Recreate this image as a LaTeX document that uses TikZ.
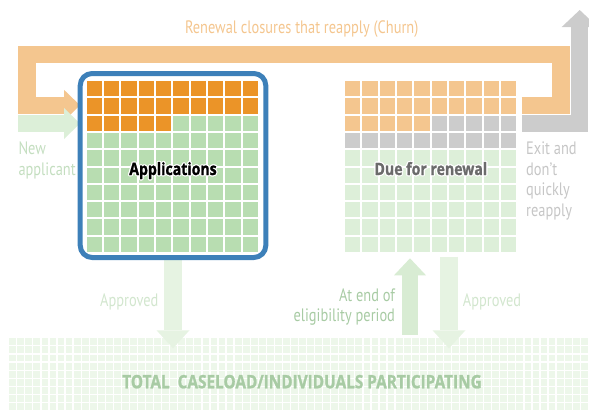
\documentclass[tikz,border=0pt]{standalone}
\usepackage{fontspec}
\setmainfont{PT Sans}[FakeStretch=0.8]
\newfontfamily\headfont{Open Sans}[FakeStretch=0.83, FakeBold=1.2]
\usepackage{contour}
\contourlength{1.2pt}
\contournumber{8}
\usetikzlibrary{arrows.meta}

\definecolor{churnorange}{HTML}{F4C68F}
\definecolor{apporange}{HTML}{EB9428}
\definecolor{appgreen}{HTML}{B8DDB1}
\definecolor{renewgreen}{HTML}{DDEFD9}
\definecolor{exitgray}{HTML}{CCCCCC}
\definecolor{boxblue}{HTML}{3D80B9}
\definecolor{loadgreen}{HTML}{EDF7EA}
\definecolor{flowgreen}{HTML}{E6F3E2}
\definecolor{endgreen}{HTML}{D8ECD3}
\definecolor{newgreen}{HTML}{DCEFD8}
\definecolor{labelgreen}{HTML}{A8CBA4}
\definecolor{palegreen}{HTML}{D2E6CE}
\definecolor{newtext}{HTML}{C4DEC0}
\definecolor{exittext}{HTML}{C6C6C6}
\definecolor{duegray}{HTML}{6B6B6B}

\begin{document}
\begin{tikzpicture}[x=1pt,y=-1pt,
        churn/.style={draw=churnorange, line width=17.6pt, line join=miter,
            -{Triangle[length=16pt,width=31pt,line width=0pt]}},
        exitflow/.style={draw=exitgray, line width=17pt, line join=miter,
            -{Triangle[length=17pt,width=36pt,line width=0pt]}},
        newflow/.style={draw=newgreen, line width=17pt,
            -{Triangle[length=16pt,width=31pt,line width=0pt]}},
        approveflow/.style={draw=flowgreen, line width=18.5pt,
            -{Triangle[length=18pt,width=33pt,line width=0pt]}},
        endflow/.style={draw=endgreen, line width=16.7pt,
            -{Triangle[length=17pt,width=32pt,line width=0pt]}},
        note/.style={font=\fontsize{18}{20.5}\selectfont, inner sep=0pt},
        gridtitle/.style={font=\headfont\bfseries\fontsize{17}{20}\selectfont, inner sep=0pt}]
            \useasboundingbox (0,0) rectangle (589,413);

            \node[minimum width=171.7pt, minimum height=171pt, inner sep=0pt] (renew) at (430.85,166.5) {};
            \node[minimum width=580pt, minimum height=72pt, inner sep=0pt] (caseload) at (299.3,374.3) {};

            \coordinate (churnstart) at (521.7,105.3);
            \coordinate (churnright) at (560.8,54.5);
            \coordinate (churnleft) at (27.2,105.3);
            \coordinate (exitstart) at (521.7,123.3);
            \coordinate (exittop) at (579.7,10);
            \coordinate (newstart) at (18.3,123.5);
            \coordinate (endstart) at (410,335);
            \coordinate (endtip) at (410,258.3);
            \coordinate (renewout) at (449,256.7);

            % caseload grid
            \foreach \c in {0,...,72}{
                \foreach \r in {0,...,8}{
                    \fill[loadgreen] (9.3+8.05*\c,338.3+8.1*\r) rectangle ++(6.8,6.9);
                }
            }
            \node[font=\headfont\bfseries\fontsize{18.5}{20}\selectfont, text=labelgreen, anchor=base, inner sep=0pt]
                (total) at (302,388.3) {TOTAL\ \ CASELOAD/INDIVIDUALS PARTICIPATING};

            % flows
            \draw[churn] (churnstart) -| (churnright) -| (churnleft) -- (churnleft -| 80,0);
            \draw[exitflow] (exitstart) -| (exittop);
            \draw[newflow] (newstart) -- (newstart -| 80,0);
            \draw[approveflow] (173,250) -- (173,348.3);
            \draw[endflow] (endstart) -- (endtip);
            \draw[approveflow] (renewout) -- (449,348.3);

            \node[draw=boxblue, fill=white, line width=5pt, rounded corners=12pt,
                minimum width=185.6pt, minimum height=184pt] (apps) at (173,165.5) {};

            % applications and renewals
            \foreach \r in {0,...,9}{
                \foreach \c in {0,...,9}{
                    \pgfmathtruncatemacro{\k}{10*\r+\c}
                    \ifnum\k<25 \def\cellcol{apporange}\else\def\cellcol{appgreen}\fi
                    \fill[\cellcol] (86.7+17.33*\c,81+17.3*\r) rectangle ++(15.3,15.3);
                    \ifnum\k<25 \def\cellcol{churnorange}\else
                        \ifnum\k<40 \def\cellcol{exitgray}\else\def\cellcol{renewgreen}\fi\fi
                    \fill[\cellcol] (345+17.33*\c,81+17.3*\r) rectangle ++(15.3,15.3);
                }
            }

            \node[gridtitle, anchor=base] (appslabel) at (apps.center |- 0,175) {\contour{white}{Applications}};
            \node[gridtitle, anchor=base, text=duegray] (renewlabel) at (renew.center |- 0,175) {\contour{white}{Due for renewal}};

            \node[note, text=churnorange, anchor=base] (churnlabel) at (301.7,33.3) {Renewal closures that reapply (Churn)};
            \node[note, text=newtext, anchor=north west, align=left] (newlabel) at (18.3,141.7) {New\\applicant};
            \node[note, text=exittext, anchor=north west, align=left] (exitlabel) at (526,141.7) {Exit and\\don’t\\quickly\\reapply};
            \node[note, text=palegreen, anchor=base] (approvedleft) at (129.3,306.5) {Approved};
            \node[note, text=labelgreen, anchor=north east, align=right] (endlabel) at (395.2,288.3) {At end of\\eligibility period};
            \node[note, text=palegreen, anchor=base] (approvedright) at (492,306.5) {Approved};
            % \draw[red] (renew.north west) rectangle (renew.south east);
        \end{tikzpicture}
\end{document}
